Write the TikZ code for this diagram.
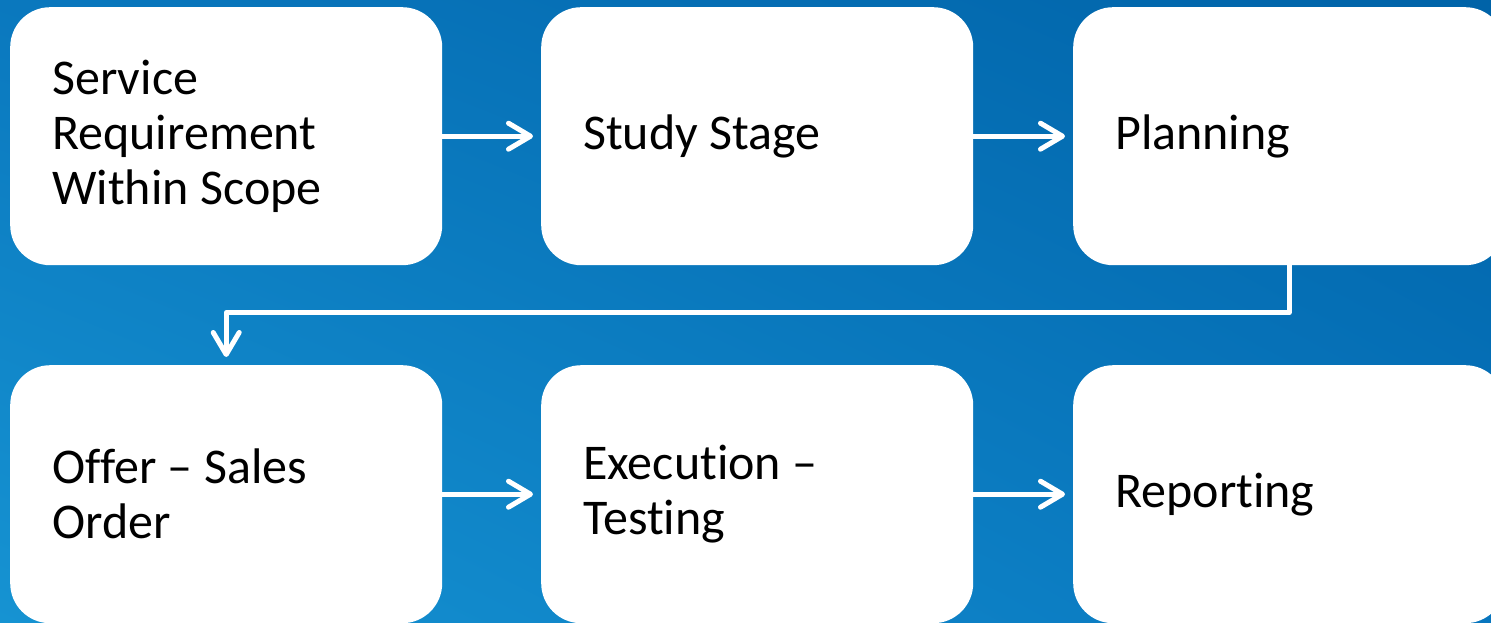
\documentclass[tikz,border=0pt]{standalone}
\usepackage{fontspec}
\setmainfont[RawFeature={-liga;-clig;-calt}]{Carlito}
\usetikzlibrary{arrows.meta,shadings}
\definecolor{bgUL}{RGB}{10,120,190}
\definecolor{bgUR}{RGB}{0,99,168}
\definecolor{bgLL}{RGB}{22,147,210}
\definecolor{bgLR}{RGB}{8,118,190}
\tikzset{
  stagebox/.style={fill=white, rounded corners=40pt, minimum width=432pt, minimum height=258pt,
    text width=348pt, inner xsep=42pt, inner ysep=0pt, align=left, anchor=north west,
    font=\fontsize{50}{55}\selectfont, text=black,
    execute at begin node={\spaceskip=11.5pt\relax}},
  flow/.style={draw=white, line width=5pt, shorten >=8pt,
    -{Straight Barb[length=22pt,width=26pt,line cap=round,line join=round]}}
}
\begin{document}
\begin{tikzpicture}[x=1pt,y=-1pt]
\clip (0,0) rectangle (1491,623);
\shade[upper left=bgUL, upper right=bgUR, lower left=bgLL, lower right=bgLR]
  (0,0) rectangle (1491,623);
\node[stagebox] (s1) at (10,7) {Service\\Requirement\\Within Scope};
\node[stagebox] (s2) at (541,7) {Study Stage};
\node[stagebox] (s3) at (1073,7) {Planning};
\node[stagebox] (s4) at (10,365) {Offer -- Sales\\Order};
\node[stagebox] (s5) at (541,365) {Execut\kern0pt ion --\\Test\kern0pt ing};
\node[stagebox] (s6) at (1073,365) {Report\kern0pt ing};
\draw[flow] (s1.east) -- (s2.west);
\draw[flow] (s2.east) -- (s3.west);
\draw[flow] (s4.east) -- (s5.west);
\draw[flow] (s5.east) -- (s6.west);
\draw[flow, line join=round] (s3.south) -- ++(0,47) -| (s4.north);
\end{tikzpicture}
\end{document}
